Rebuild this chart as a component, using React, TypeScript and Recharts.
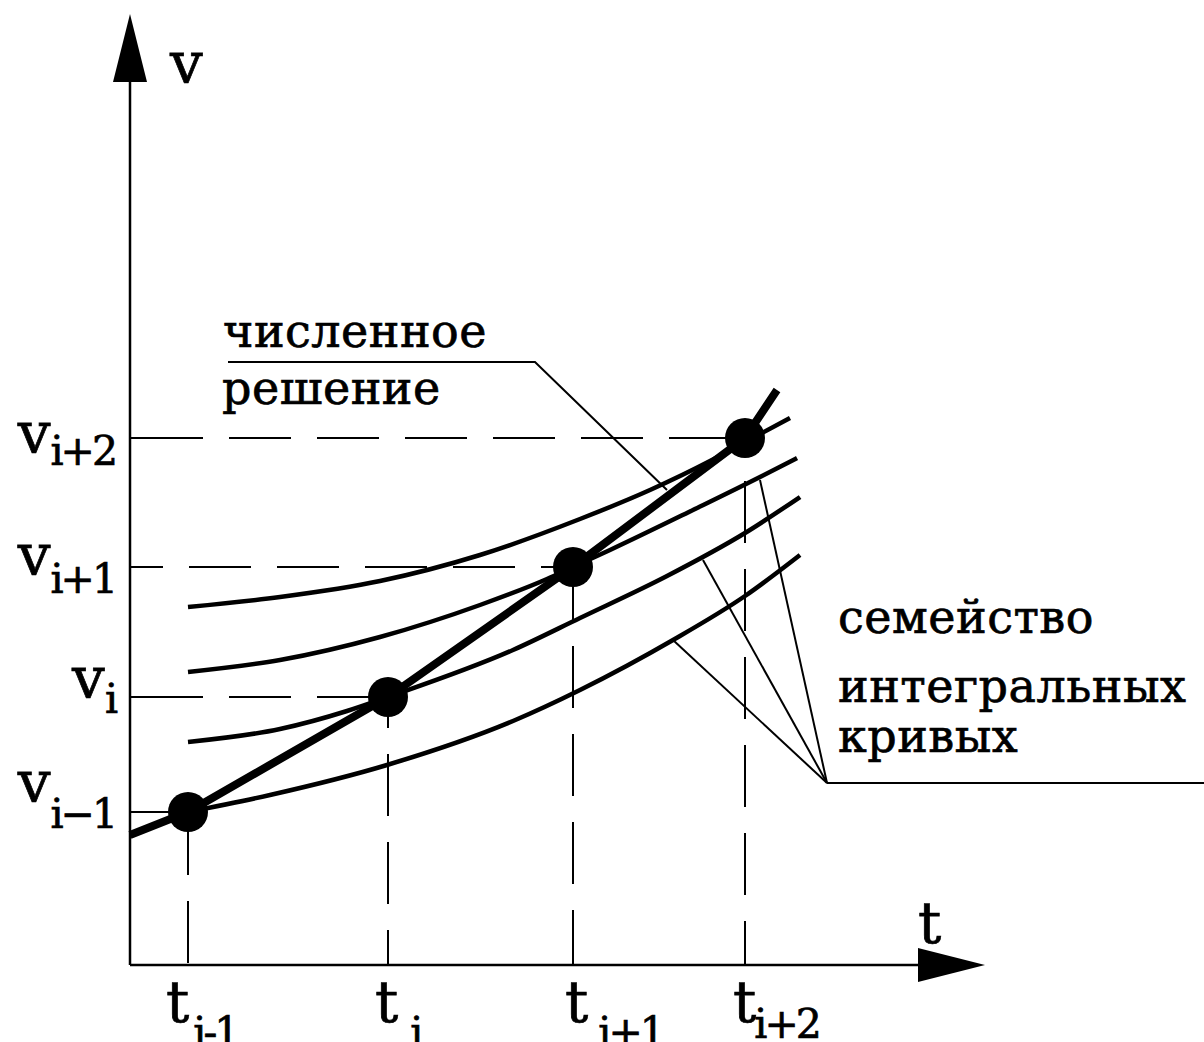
import { ComposedChart, Line, Scatter, XAxis, YAxis } from "recharts";

// node points of the numerical solution (t_k, v_k)
const T_NODES = [5.8, 25.8, 44.3, 61.5];
const V_NODES = [15.3, 26.8, 39.8, 52.7];
const SUBS = ["i\u22121", "i", "i+1", "i+2"];
const T_SUBS = ["i-1", "i", "i+1", "i+2"];

// broken line of the numerical solution
const NUMERIC = [
  { t: 0, v: 13.0 },
  { t: 5.8, v: 15.3 },
  { t: 25.8, v: 26.8 },
  { t: 44.3, v: 39.8 },
  { t: 61.5, v: 52.7 },
  { t: 64.7, v: 57.5 },
];

// family of integral curves, top to bottom
const CURVE_1 = [
  { t: 5.8, v: 35.8 },
  { t: 15, v: 36.8 },
  { t: 25, v: 38.4 },
  { t: 35, v: 41.0 },
  { t: 45, v: 44.6 },
  { t: 52, v: 47.5 },
  { t: 58, v: 50.4 },
  { t: 61.5, v: 52.3 },
  { t: 66, v: 54.7 },
];
const CURVE_2 = [
  { t: 5.8, v: 29.3 },
  { t: 15, v: 30.5 },
  { t: 25, v: 32.8 },
  { t: 35, v: 36.0 },
  { t: 41.7, v: 38.6 },
  { t: 44.3, v: 39.8 },
  { t: 48, v: 41.5 },
  { t: 56.3, v: 45.5 },
  { t: 63, v: 48.8 },
  { t: 66.7, v: 50.7 },
];
const CURVE_3 = [
  { t: 5.8, v: 22.3 },
  { t: 15, v: 23.6 },
  { t: 21.7, v: 25.4 },
  { t: 25.8, v: 26.8 },
  { t: 38.3, v: 31.5 },
  { t: 45, v: 34.7 },
  { t: 53.7, v: 38.9 },
  { t: 61.5, v: 43.2 },
  { t: 67, v: 46.8 },
];
const CURVE_4 = [
  { t: 5.8, v: 15.3 },
  { t: 14, v: 17.0 },
  { t: 25.7, v: 20.0 },
  { t: 38.3, v: 24.4 },
  { t: 45, v: 27.5 },
  { t: 54.3, v: 32.5 },
  { t: 61.5, v: 36.9 },
  { t: 67, v: 41.0 },
];

// leader lines of the captions
const LEADER_NUMERIC = [
  { t: 9.8, v: 60.3 },
  { t: 40.5, v: 60.3 },
  { t: 53.7, v: 47.5 },
];
const LEADER_BASE = [
  { t: 69.7, v: 18.2 },
  { t: 107.4, v: 18.2 },
];
const LEADER_TIPS = [
  { t: 54.3, v: 32.5 },
  { t: 57.3, v: 40.5 },
  { t: 63, v: 48.5 },
];

// axes
const X_AXIS = [
  { t: 0, v: 0 },
  { t: 79, v: 0 },
];
const Y_AXIS = [
  { t: 0, v: 0 },
  { t: 0, v: 88.3 },
];
const X_TIP = [{ t: 85.5, v: 0 }];
const Y_TIP = [{ t: 0, v: 95.1 }];

// caption anchors
const CAPTIONS = [
  { t: 9.3, v: 61.8, text: "численное" },
  { t: 9.2, v: 56.1, text: "решение" },
  { t: 70.8, v: 33.2, text: "семейство" },
  { t: 70.8, v: 26.3, text: "интегральных" },
  { t: 70.8, v: 21.3, text: "кривых" },
];
const AXIS_NAMES = [
  { t: 4.0, v: 88.2, name: "v" },
  { t: 78.8, v: 2.2, name: "t" },
];
const V_LABEL_POS = [16.3, 26.7, 39.0, 51.2];
const T_LABEL_POS = [3.6, 24.5, 43.5, 60.3];

// styling
const FONT = "'DejaVu Serif', serif";
const MAIN_SIZE = 58;
const SUB_SIZE = 41;
const TEXT_SIZE = 46;
const INK = { fill: "#000", stroke: "#000", strokeWidth: 0.7 };
const H_FIRST_DASH = [73, 73, 33, 73];
const V_FIRST_DASH = [63, 31, 53, 17];
const V_SUB_DY = [26, 15, 18, 12];
const T_SUB_DX = [4, 12, 10, -2];
const T_SUB_DY = [24, 24, 24, 16];

const dashes = (first: number) =>
  `${first} 26 ${Array(9).fill("62 26").join(" ")} 400`;

const hGuides = T_NODES.map((t, i) => [
  { t: 0, v: V_NODES[i] },
  { t, v: V_NODES[i] },
]);
const vGuides = T_NODES.map((t, i) => [
  { t, v: V_NODES[i] },
  { t, v: 0 },
]);
const nodes = T_NODES.map((t, i) => ({ t, v: V_NODES[i] }));
const vLabels = V_LABEL_POS.map((v, i) => ({ t: -1.5, v, sub: SUBS[i], i }));
const tLabels = T_LABEL_POS.map((t, i) => ({ t, v: -5.7, sub: T_SUBS[i], i }));

const UpArrow = (p: any) => (
  <polygon
    points={`${p.cx},${p.cy} ${p.cx - 17},${p.cy + 68} ${p.cx + 17},${p.cy + 68}`}
    fill="#000"
  />
);
const RightArrow = (p: any) => (
  <polygon
    points={`${p.cx},${p.cy} ${p.cx - 67},${p.cy - 17} ${p.cx - 67},${p.cy + 17}`}
    fill="#000"
  />
);
const NodeDot = (p: any) => <circle cx={p.cx} cy={p.cy} r={20} fill="#000" />;

const Caption = (p: any) => (
  <text x={p.cx} y={p.cy} fontFamily={FONT} fontSize={TEXT_SIZE} letterSpacing={0.5} {...INK}>
    {p.payload.text}
  </text>
);
const VLabel = (p: any) => (
  <text x={p.cx} y={p.cy} fontFamily={FONT} fontSize={MAIN_SIZE} textAnchor="end" {...INK}>
    v
    <tspan fontSize={SUB_SIZE} letterSpacing={-3} dy={V_SUB_DY[p.payload.i]}>
      {p.payload.sub}
    </tspan>
  </text>
);
const TLabel = (p: any) => (
  <text x={p.cx} y={p.cy} fontFamily={FONT} fontSize={MAIN_SIZE} {...INK}>
    t
    <tspan
      fontSize={SUB_SIZE}
      letterSpacing={-3}
      dx={T_SUB_DX[p.payload.i]}
      dy={T_SUB_DY[p.payload.i]}
    >
      {p.payload.sub}
    </tspan>
  </text>
);
const AxisName = (p: any) => (
  <text x={p.cx} y={p.cy} fontFamily={FONT} fontSize={MAIN_SIZE} {...INK}>
    {p.payload.name}
  </text>
);

export default function App() {
  const thin = { stroke: "#000", dot: false, activeDot: false, isAnimationActive: false } as const;
  return (
    <div style={{ position: "absolute", left: 0, top: 0, background: "#fff" }}>
      <ComposedChart width={1204} height={1042} margin={{ top: 0, right: 0, bottom: 0, left: 0 }}>
        <XAxis type="number" dataKey="t" domain={[-13, 107.4]} allowDataOverflow hide />
        <YAxis type="number" dataKey="v" domain={[-7.7, 96.5]} allowDataOverflow hide />

        <Line data={X_AXIS} dataKey="v" type="linear" strokeWidth={2.5} {...thin} />
        <Line data={Y_AXIS} dataKey="v" type="linear" strokeWidth={2.5} {...thin} />

        {hGuides.map((d, i) => (
          <Line
            key={`h${i}`}
            data={d}
            dataKey="v"
            type="linear"
            strokeWidth={2}
            strokeDasharray={dashes(H_FIRST_DASH[i])}
            {...thin}
          />
        ))}
        {vGuides.map((d, i) => (
          <Line
            key={`v${i}`}
            data={d}
            dataKey="v"
            type="linear"
            strokeWidth={2}
            strokeDasharray={dashes(V_FIRST_DASH[i])}
            {...thin}
          />
        ))}

        {[CURVE_1, CURVE_2, CURVE_3, CURVE_4].map((d, i) => (
          <Line key={`c${i}`} data={d} dataKey="v" type="monotone" strokeWidth={4.5} {...thin} />
        ))}
        <Line data={NUMERIC} dataKey="v" type="linear" strokeWidth={8} strokeLinejoin="round" {...thin} />

        <Line data={LEADER_NUMERIC} dataKey="v" type="linear" strokeWidth={2} {...thin} />
        <Line data={LEADER_BASE} dataKey="v" type="linear" strokeWidth={2} {...thin} />
        {LEADER_TIPS.map((tip, i) => (
          <Line
            key={`l${i}`}
            data={[LEADER_BASE[0], tip]}
            dataKey="v"
            type="linear"
            strokeWidth={2}
            {...thin}
          />
        ))}

        <Scatter data={nodes} dataKey="v" shape={NodeDot} isAnimationActive={false} />
        <Scatter data={Y_TIP} dataKey="v" shape={UpArrow} isAnimationActive={false} />
        <Scatter data={X_TIP} dataKey="v" shape={RightArrow} isAnimationActive={false} />
        <Scatter data={CAPTIONS} dataKey="v" shape={Caption} isAnimationActive={false} />
        <Scatter data={vLabels} dataKey="v" shape={VLabel} isAnimationActive={false} />
        <Scatter data={tLabels} dataKey="v" shape={TLabel} isAnimationActive={false} />
        <Scatter data={AXIS_NAMES} dataKey="v" shape={AxisName} isAnimationActive={false} />
      </ComposedChart>
    </div>
  );
}
